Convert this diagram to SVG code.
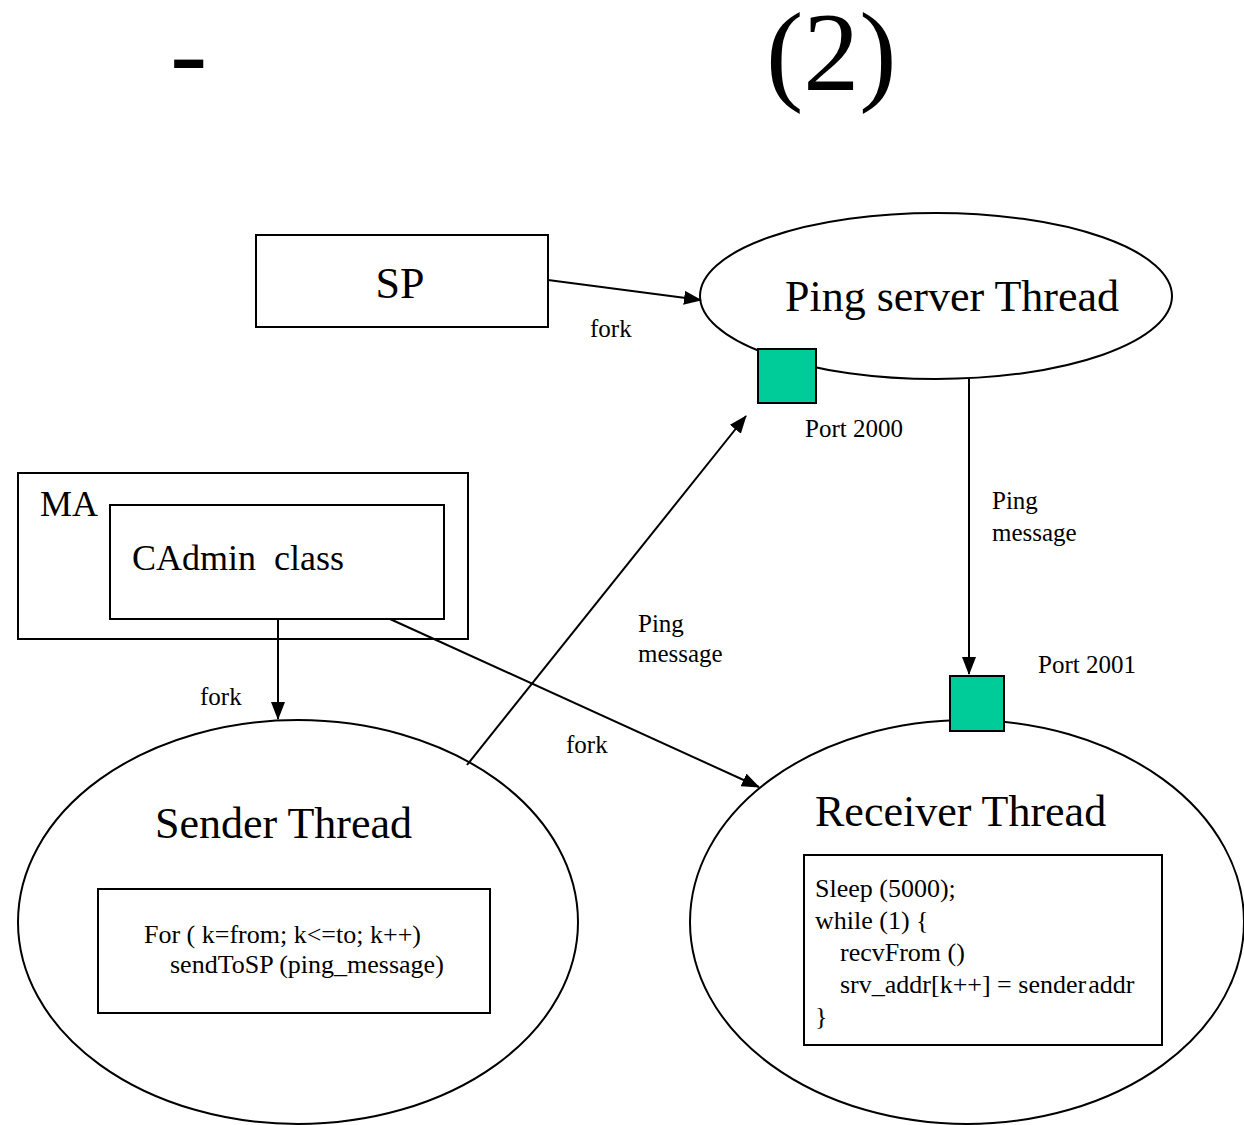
<svg xmlns="http://www.w3.org/2000/svg" width="1244" height="1125" viewBox="0 0 1244 1125">
<style>
text{font-family:"Liberation Serif","Times New Roman",serif;fill:#000}
.big{font-size:44px}
.mid{font-size:36px}
.lbl{font-size:25px}
.code{font-size:26px}
.ttl{font-size:112px}
.box{fill:#fff;stroke:#000;stroke-width:2}
.ell{fill:#fff;stroke:#000;stroke-width:2}
.port{fill:#00CC99;stroke:#000;stroke-width:2}
.conn{stroke:#000;stroke-width:2;fill:none;marker-end:url(#ah)}
</style>
<defs>
<marker id="ah" markerUnits="userSpaceOnUse" markerWidth="18" markerHeight="14" refX="17" refY="7" orient="auto">
<path d="M0,0 L18,7 L0,14 Z" fill="#000"/>
</marker>
</defs>
<rect width="1244" height="1125" fill="#fff"/>
<g id="title">
<text class="ttl" x="170" y="90">-</text>
<text class="ttl" x="766" y="90">(2)</text>
</g>
<g id="sp">
<rect class="box" x="256" y="235" width="292" height="92"/>
<text class="big" x="400" y="298" text-anchor="middle">SP</text>
</g>
<g id="ping-server">
<ellipse class="ell" cx="936" cy="296" rx="236" ry="83"/>
<text class="big" x="785" y="311">Ping server Thread</text>
</g>
<g id="port2000">
<rect class="port" x="758" y="349" width="58" height="54"/>
<text class="lbl" x="805" y="437">Port 2000</text>
</g>
<g id="ma">
<rect class="box" x="18" y="473" width="450" height="166"/>
<text class="mid" x="40" y="516">MA</text>
</g>
<g id="cadmin">
<rect class="box" x="110" y="505" width="334" height="114"/>
<text class="mid" x="132" y="570" xml:space="preserve">CAdmin  class</text>
</g>
<g id="sender">
<ellipse class="ell" cx="298" cy="922" rx="280" ry="202"/>
<text class="big" x="155" y="838">Sender Thread</text>
<rect class="box" x="98" y="889" width="392" height="124"/>
<text class="code" x="144" y="943">For ( k=from; k&lt;=to; k++)</text>
<text class="code" x="170" y="973">sendToSP (ping_message)</text>
</g>
<g id="receiver">
<ellipse class="ell" cx="967" cy="922" rx="277" ry="202"/>
<text class="big" x="815" y="826">Receiver Thread</text>
<rect class="box" x="804" y="855" width="358" height="190"/>
<text class="code" x="815" y="897">Sleep (5000);</text>
<text class="code" x="815" y="929">while (1) {</text>
<text class="code" x="840" y="961">recvFrom ()</text>
<text class="code" x="840" y="993">srv_addr[k++] = sender<tspan dx="2">addr</tspan></text>
<text class="code" x="815" y="1025">}</text>
</g>
<g id="port2001">
<rect class="port" x="950" y="676" width="54" height="55"/>
<text class="lbl" x="1038" y="673">Port 2001</text>
</g>
<g id="connectors">
<line class="conn" x1="548" y1="280" x2="701" y2="300"/>
<line class="conn" x1="969" y1="379" x2="969" y2="674"/>
<line class="conn" x1="278" y1="619" x2="278" y2="719"/>
<line class="conn" x1="390" y1="619" x2="759" y2="787"/>
<line class="conn" x1="467" y1="765" x2="746" y2="416"/>
<text class="lbl" x="590" y="337">fork</text>
<text class="lbl" x="992" y="509">Ping</text>
<text class="lbl" x="992" y="541">message</text>
<text class="lbl" x="200" y="705">fork</text>
<text class="lbl" x="566" y="753">fork</text>
<text class="lbl" x="638" y="632">Ping</text>
<text class="lbl" x="638" y="662">message</text>
</g>
</svg>
